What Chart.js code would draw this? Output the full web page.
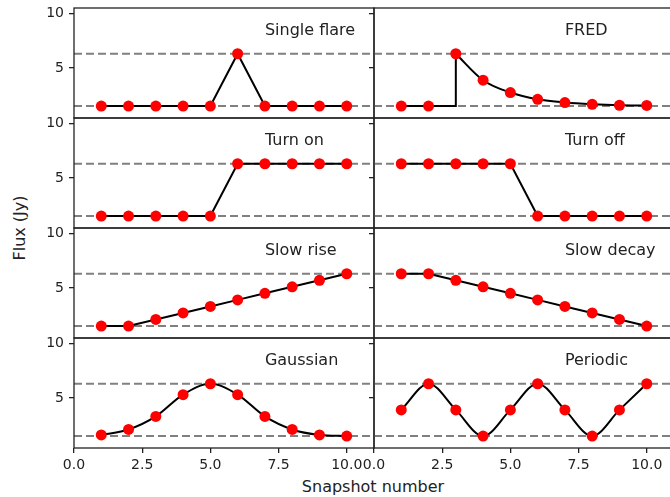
<!DOCTYPE html>
<html>
<head>
<meta charset="utf-8">
<script src="https://cdn.jsdelivr.net/npm/chart.js@4.4.1/dist/chart.umd.min.js"></script>
<style>
  html, body { margin: 0; padding: 0; background: #fff; overflow: hidden; }
  #fig { position: relative; width: 670px; height: 497px; overflow: hidden; }
  #fig canvas { position: absolute; }
  .lbl { position: absolute; font-family: "DejaVu Sans"; font-size: 16px; color: #222; white-space: nowrap; }
</style>
</head>
<body>
<div id="fig">
  <div class="lbl" id="xlabel">Snapshot number</div>
  <div class="lbl" id="ylabel">Flux (Jy)</div>
</div>
<script>
const snapshots = [1, 2, 3, 4, 5, 6, 7, 8, 9, 10];
const levels = [1.5, 6.3];
const xTicks = [0, 2.5, 5, 7.5, 10];
const yTicks = [5, 10];

const singleFlare = [1.5, 1.5, 1.5, 1.5, 1.5, 6.3, 1.5, 1.5, 1.5, 1.5];
const fred = [1.5, 1.5, 6.3, 3.87, 2.74, 2.12, 1.82, 1.66, 1.57, 1.55];
const turnOn = [1.5, 1.5, 1.5, 1.5, 1.5, 6.3, 6.3, 6.3, 6.3, 6.3];
const turnOff = [6.3, 6.3, 6.3, 6.3, 6.3, 1.5, 1.5, 1.5, 1.5, 1.5];
const slowRise = [1.5, 1.5, 2.1, 2.7, 3.3, 3.9, 4.5, 5.1, 5.7, 6.3];
const slowDecay = [6.3, 6.3, 5.7, 5.1, 4.5, 3.9, 3.3, 2.7, 2.1, 1.5];
const gaussian = [1.6, 2.1, 3.3, 5.3, 6.3, 5.3, 3.3, 2.1, 1.6, 1.5];
const periodic = [3.9, 6.3, 3.9, 1.5, 3.9, 6.3, 3.9, 1.5, 3.9, 6.3];

// FRED: flat until the jump at snapshot 3, then smooth decay
const fredRiseX = [1, 2, 3, 3];
const fredRiseY = [1.5, 1.5, 1.5, 6.3];

const panels = [
    { name: "Single flare", values: singleFlare, smooth: false },
    { name: "FRED", values: fred, smooth: true, rise: true },
    { name: "Turn on", values: turnOn, smooth: false },
    { name: "Turn off", values: turnOff, smooth: false },
    { name: "Slow rise", values: slowRise, smooth: false },
    { name: "Slow decay", values: slowDecay, smooth: false },
    { name: "Gaussian", values: gaussian, smooth: true },
    { name: "Periodic", values: periodic, smooth: true },
];

const rowTop = [8, 118, 228, 338];
const colLeft = [74, 374];
const plotW = 300, plotH = 110;
const font = "DejaVu Sans";
const ink = "#222";

const xl = document.getElementById("xlabel");
xl.style.left = "373px"; xl.style.top = "477px"; xl.style.transform = "translateX(-50%)";
const yl = document.getElementById("ylabel");
yl.style.left = "19px"; yl.style.top = "228px"; yl.style.transform = "translate(-50%, -50%) rotate(-90deg)";

const framePlugin = {
    id: "frame",
    afterDatasetsDraw(chart, args, opts) {
        const { ctx, chartArea: a, scales } = chart;
        ctx.save();
        ctx.strokeStyle = ink;
        ctx.lineWidth = 1.3;
        ctx.strokeRect(a.left, a.top, a.right - a.left, a.bottom - a.top);
        ctx.fillStyle = ink;
        ctx.font = "16px " + font;
        ctx.textAlign = "left";
        ctx.textBaseline = "alphabetic";
        ctx.fillText(opts.text, scales.x.getPixelForValue(7), scales.y.getPixelForValue(8));
        ctx.restore();
    },
};

panels.forEach((p, i) => {
    const row = Math.floor(i / 2), col = i % 2;
    const bottom = row === 3;
    const yw = col === 0 ? 74 : 40;
    const canvas = document.createElement("canvas");
    const w = yw + plotW + 2;
    const h = 10 + plotH + (bottom ? 40 : 2);
    canvas.width = w; canvas.height = h;
    canvas.style.left = (colLeft[col] - yw) + "px";
    canvas.style.top = (rowTop[row] - 10) + "px";
    canvas.style.width = w + "px"; canvas.style.height = h + "px";
    document.getElementById("fig").appendChild(canvas);

    const pts = snapshots.map((x, k) => ({ x: x, y: p.values[k] }));
    const datasets = [
        {
            data: pts, showLine: false, pointRadius: 5.5, pointHoverRadius: 5.5,
            pointBackgroundColor: "#ff0000", pointBorderWidth: 0,
        },
    ];
    if (p.rise) {
        datasets.push({
            data: pts.slice(2), showLine: true, pointRadius: 0, borderColor: "#000",
            borderWidth: 2, cubicInterpolationMode: "monotone",
        });
        datasets.push({
            data: fredRiseX.map((x, k) => ({ x: x, y: fredRiseY[k] })), showLine: true,
            pointRadius: 0, borderColor: "#000", borderWidth: 2, tension: 0,
        });
    } else {
        datasets.push({
            data: pts, showLine: true, pointRadius: 0, borderColor: "#000", borderWidth: 2,
            tension: 0, cubicInterpolationMode: p.smooth ? "monotone" : "default",
        });
    }
    levels.forEach((lv) => {
        datasets.push({
            data: [{ x: 0, y: lv }, { x: 11, y: lv }], showLine: true, pointRadius: 0,
            borderColor: "#808080", borderWidth: 2, borderDash: [8, 4],
        });
    });

    new Chart(canvas, {
        type: "scatter",
        data: { datasets: datasets },
        plugins: [framePlugin],
        options: {
            responsive: false,
            animation: false,
            devicePixelRatio: 1,
            events: [],
            layout: { autoPadding: false, padding: { top: 10, right: 2, bottom: bottom ? 0 : 2, left: 0 } },
            scales: {
                x: {
                    type: "linear", min: 0, max: 11, display: bottom,
                    afterBuildTicks: (s) => { s.ticks = xTicks.map((v) => ({ value: v })); },
                    afterFit: (s) => { s.height = bottom ? 40 : 0; s.paddingLeft = 0; s.paddingRight = 0; },
                    border: { display: false },
                    grid: { drawOnChartArea: false, drawTicks: true, tickLength: 5, color: ink, lineWidth: 1.3 },
                    ticks: {
                        padding: 4, color: ink, font: { family: font, size: 14 },
                        maxRotation: 0, autoSkip: false,
                        callback: (v) => v.toFixed(1),
                    },
                },
                y: {
                    type: "linear", min: 0.4, max: 10.5,
                    afterBuildTicks: (s) => { s.ticks = yTicks.map((v) => ({ value: v })); },
                    afterFit: (s) => { s.width = yw; s.paddingTop = 0; s.paddingBottom = 0; },
                    border: { display: false },
                    grid: { drawOnChartArea: false, drawTicks: true, tickLength: 5, color: ink, lineWidth: 1.3 },
                    ticks: {
                        padding: 5, color: col === 0 ? ink : "rgba(0,0,0,0)",
                        font: { family: font, size: 14 },
                        callback: (v) => String(v),
                    },
                },
            },
            plugins: {
                legend: { display: false },
                tooltip: { enabled: false },
                frame: { text: p.name },
            },
        },
    });
});
</script>
</body>
</html>
